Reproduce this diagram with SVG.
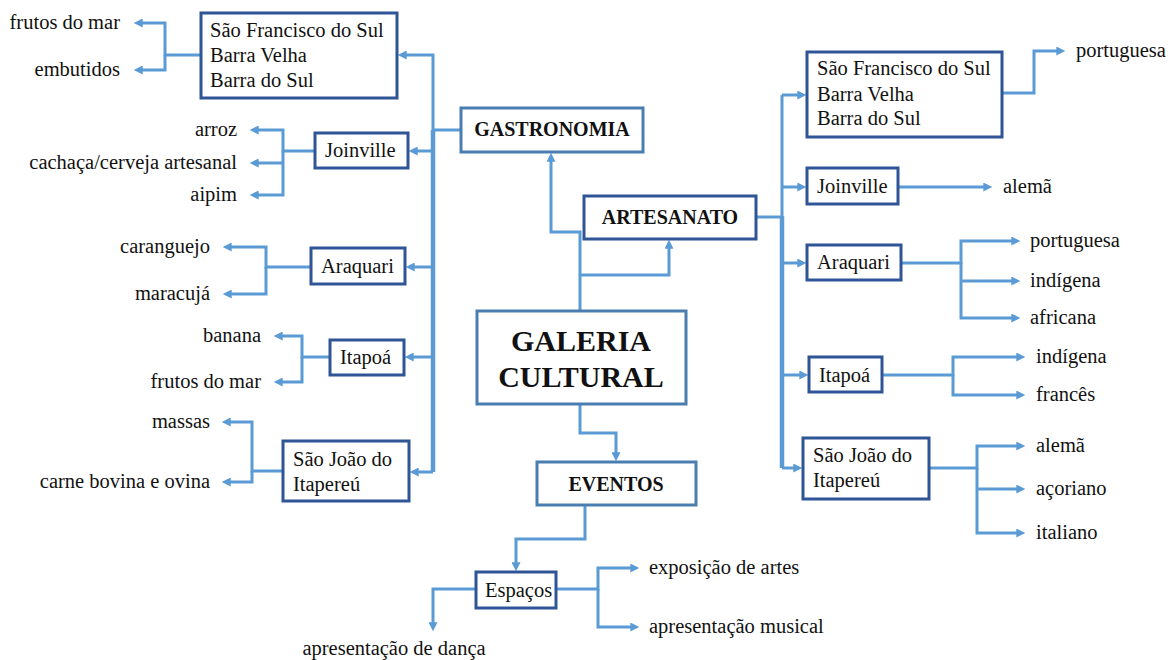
<svg xmlns="http://www.w3.org/2000/svg" width="1168" height="660" viewBox="0 0 1168 660">
<style>
.bx{fill:#fff;stroke:#2F5597;stroke-width:3}
.bx2{fill:#fff;stroke:#4A7EB0;stroke-width:3}
text{font-family:"Liberation Serif","Times New Roman",serif;fill:#111}
.t{font-size:20.5px}
.tb{font-size:20px;font-weight:bold}
.tbig{font-size:30px;font-weight:bold}
.e{text-anchor:end}
.c{text-anchor:middle}
.ln{fill:none;stroke:#5B9BD5;stroke-width:3}
.ar{marker-end:url(#ah)}
.trunk{fill:none;stroke:#5B9BD5;stroke-width:4.5}
</style>
<defs>
<marker id="ah" viewBox="0 0 10 10" refX="3" refY="5" markerWidth="10" markerHeight="9" markerUnits="userSpaceOnUse" orient="auto">
<path d="M0,0 L10,5 L0,10 z" fill="#5B9BD5"/>
</marker>
</defs>
<rect width="1168" height="660" fill="#fff"/>
<g id="connectors">
<path class="trunk" d="M433,130 V472"/>
<path class="ln ar" d="M461,130 H433 V55 H404"/>
<path class="ln ar" d="M433,151 H415"/>
<path class="ln ar" d="M433,267 H412"/>
<path class="ln ar" d="M433,357 H411"/>
<path class="ln ar" d="M433,472 H416"/>
<path class="ln ar" d="M200,55 H165 V23 H140"/>
<path class="ln ar" d="M165,55 V70 H140"/>
<path class="ln ar" d="M315,151 H283 V130 H256"/>
<path class="ln ar" d="M283,151 V195 H256"/>
<path class="ln ar" d="M283,163 H256"/>
<path class="ln ar" d="M311,267 H266 V247 H229"/>
<path class="ln ar" d="M266,267 V294 H229"/>
<path class="ln ar" d="M330,357 H302 V336 H280"/>
<path class="ln ar" d="M302,357 V382 H280"/>
<path class="ln ar" d="M283,471 H252 V422 H228"/>
<path class="ln ar" d="M252,471 V482 H228"/>
<path class="ln ar" d="M580,311 V232 H551 V159"/>
<path class="ln ar" d="M580,275 H669 V246"/>
<path class="ln ar" d="M580,404 V433 H616 V455"/>
<path class="ln ar" d="M585,505 V539 H516 V565"/>
<path class="ln ar" d="M476,589 H433 V625"/>
<path class="ln ar" d="M556,589 H598 V568 H633"/>
<path class="ln ar" d="M598,589 V627 H633"/>
<path class="ln" d="M756,217 H782"/>
<path class="ln" d="M782,95 V218"/>
<path class="trunk" d="M782,216 V468"/>
<path class="ln ar" d="M782,95 H800"/>
<path class="ln ar" d="M782,187 H800"/>
<path class="ln ar" d="M782,263 H800"/>
<path class="ln ar" d="M782,375 H802"/>
<path class="ln ar" d="M782,468 H796"/>
<path class="ln ar" d="M1002,93 H1034 V51 H1059"/>
<path class="ln ar" d="M898,187 H986"/>
<path class="ln ar" d="M901,263 H961 V241 H1014"/>
<path class="ln ar" d="M961,263 V318 H1014"/>
<path class="ln ar" d="M961,281 H1014"/>
<path class="ln ar" d="M882,375 H953 V357 H1019"/>
<path class="ln ar" d="M953,375 V395 H1019"/>
<path class="ln ar" d="M929,468 H977 V446 H1019"/>
<path class="ln ar" d="M977,468 V533 H1019"/>
<path class="ln ar" d="M977,489 H1019"/>
</g>
<g id="galeria"><rect class="bx2" x="477" y="311" width="209" height="93"/><text class="tbig c" x="581" y="351">GALERIA</text><text class="tbig c" x="581" y="387">CULTURAL</text></g>
<g id="gastronomia"><rect class="bx2" x="461" y="108" width="182" height="44"/><text class="tb c" x="552" y="136">GASTRONOMIA</text></g>
<g id="artesanato"><rect class="bx" x="584" y="196" width="172" height="43"/><text class="tb c" x="670" y="224">ARTESANATO</text></g>
<g id="eventos"><rect class="bx2" x="537" y="462" width="159" height="43"/><text class="tb c" x="616" y="491">EVENTOS</text></g>
<g id="espacos"><rect class="bx" x="476" y="572" width="80" height="36"/><text class="t" x="485" y="597">Espaços</text></g>
<g id="g-sfs"><rect class="bx" x="201" y="13" width="196" height="85"/><text class="t" x="210" y="37">São Francisco do Sul</text><text class="t" x="210" y="62">Barra Velha</text><text class="t" x="210" y="87">Barra do Sul</text></g>
<g id="g-joinville"><rect class="bx" x="315" y="133" width="93" height="35"/><text class="t" x="325" y="157">Joinville</text></g>
<g id="g-araquari"><rect class="bx" x="311" y="248" width="94" height="36"/><text class="t" x="321" y="273">Araquari</text></g>
<g id="g-itapoa"><rect class="bx" x="330" y="340" width="74" height="35"/><text class="t" x="340" y="364">Itapoá</text></g>
<g id="g-saojoao"><rect class="bx" x="283" y="441" width="126" height="60"/><text class="t" x="293" y="466">São João do</text><text class="t" x="293" y="491">Itapereú</text></g>
<g id="g-leaves">
<text class="t e" x="120" y="29">frutos do mar</text>
<text class="t e" x="120" y="76">embutidos</text>
<text class="t e" x="237" y="136">arroz</text>
<text class="t e" x="237" y="169">cachaça/cerveja artesanal</text>
<text class="t e" x="237" y="201">aipim</text>
<text class="t e" x="210" y="253">caranguejo</text>
<text class="t e" x="210" y="300">maracujá</text>
<text class="t e" x="261" y="342">banana</text>
<text class="t e" x="261" y="388">frutos do mar</text>
<text class="t e" x="210" y="428">massas</text>
<text class="t e" x="210" y="488">carne bovina e ovina</text>
</g>
<g id="a-sfs"><rect class="bx" x="807" y="52" width="195" height="85"/><text class="t" x="817" y="75">São Francisco do Sul</text><text class="t" x="817" y="101">Barra Velha</text><text class="t" x="817" y="125">Barra do Sul</text></g>
<g id="a-joinville"><rect class="bx" x="807" y="168" width="91" height="36"/><text class="t" x="817" y="193">Joinville</text></g>
<g id="a-araquari"><rect class="bx" x="807" y="245" width="94" height="35"/><text class="t" x="817" y="269">Araquari</text></g>
<g id="a-itapoa"><rect class="bx" x="809" y="357" width="73" height="35"/><text class="t" x="819" y="382">Itapoá</text></g>
<g id="a-saojoao"><rect class="bx" x="803" y="438" width="126" height="61"/><text class="t" x="813" y="462">São João do</text><text class="t" x="813" y="487">Itapereú</text></g>
<g id="a-leaves">
<text class="t" x="1076" y="57">portuguesa</text>
<text class="t" x="1003" y="193">alemã</text>
<text class="t" x="1030" y="247">portuguesa</text>
<text class="t" x="1030" y="287">indígena</text>
<text class="t" x="1030" y="324">africana</text>
<text class="t" x="1036" y="363">indígena</text>
<text class="t" x="1036" y="401">francês</text>
<text class="t" x="1036" y="452">alemã</text>
<text class="t" x="1036" y="495">açoriano</text>
<text class="t" x="1036" y="539">italiano</text>
</g>
<g id="e-leaves">
<text class="t" x="649" y="574">exposição de artes</text>
<text class="t" x="649" y="633">apresentação musical</text>
<text class="t c" x="394" y="655">apresentação de dança</text>
</g>
</svg>
